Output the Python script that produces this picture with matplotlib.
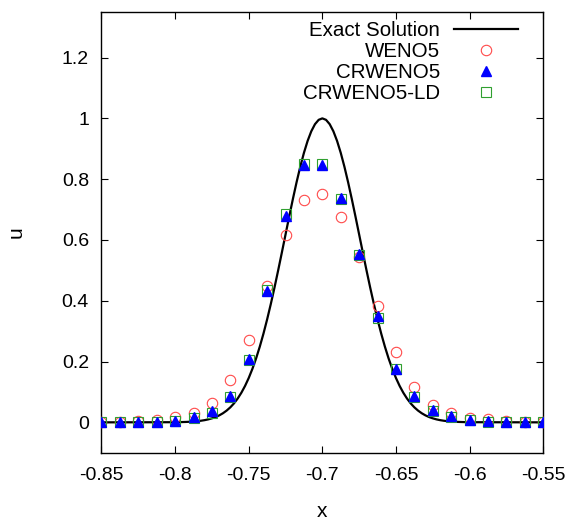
import numpy as np
import matplotlib
matplotlib.use("Agg")
import matplotlib.pyplot as plt

plt.rcParams.update({
    "font.family": ["Liberation Sans", "DejaVu Sans"],
    "font.size": 14,
    "axes.unicode_minus": False,
})

# sample points of the numerical solutions (grid spacing 0.0125)
x_pts = np.linspace(-0.85, -0.55, 25)
weno5 = [0.000, 0.001, 0.003, 0.008, 0.017, 0.032, 0.065, 0.138, 0.272, 0.449, 0.616, 0.733, 0.751,
         0.676, 0.545, 0.384, 0.231, 0.117, 0.057, 0.032, 0.015, 0.010, 0.003, 0.001, 0.000]
crweno5 = [0.000, 0.000, 0.000, 0.002, 0.006, 0.016, 0.037, 0.086, 0.207, 0.433, 0.680, 0.847, 0.848,
           0.737, 0.554, 0.349, 0.177, 0.086, 0.040, 0.020, 0.008, 0.003, 0.001, 0.000, 0.000]
crweno5_ld = [0.000, 0.000, 0.000, 0.001, 0.005, 0.014, 0.032, 0.082, 0.205, 0.435, 0.685, 0.849, 0.850,
              0.735, 0.550, 0.343, 0.174, 0.082, 0.037, 0.017, 0.007, 0.002, 0.000, 0.000, 0.000]

# exact solution, read at 0.0025 spacing from -0.8 up to the peak at -0.7 (symmetric)
u_left = [0.0005, 0.0007, 0.0010, 0.0014, 0.0020, 0.0028, 0.0038, 0.0053, 0.0072, 0.0098,
          0.0132, 0.0175, 0.0230, 0.0300, 0.0387, 0.0494, 0.0625, 0.0784, 0.0974, 0.1198,
          0.1459, 0.1760, 0.2103, 0.2489, 0.2917, 0.3387, 0.3894, 0.4434, 0.5001, 0.5586,
          0.6180, 0.6772, 0.7349, 0.7899, 0.8409, 0.8866, 0.9259, 0.9576, 0.9809, 0.9952,
          1.0]
u_exact = [0.0] + u_left + u_left[-2::-1] + [0.0]
x_exact = np.concatenate([[-0.85], np.linspace(-0.80, -0.60, 81), [-0.55]])

x_ticks = [-0.85, -0.8, -0.75, -0.7, -0.65, -0.6, -0.55]
y_ticks = [0, 0.2, 0.4, 0.6, 0.8, 1, 1.2]

fig = plt.figure(figsize=(5.67, 5.21), dpi=100)
ax = fig.add_axes([0.179, 0.131, 0.779, 0.846])

ax.plot(x_exact, u_exact, color="black", lw=1.6, label="Exact Solution", zorder=2)
ax.plot(x_pts, weno5, ls="none", marker="o", ms=7.5, mfc="none", mec="#ff4a4a", mew=0.8,
        label="WENO5", zorder=3)
ax.plot(x_pts, crweno5, ls="none", marker="^", ms=7.8, color="#0000ff", mec="#0000ff",
        label="CRWENO5", zorder=4)
ax.plot(x_pts, crweno5_ld, ls="none", marker="s", ms=7.3, mfc="none", mec="#30a030", mew=0.8,
        label="CRWENO5-LD", zorder=3)

ax.set_xlim(-0.85, -0.55)
ax.set_ylim(-0.1, 1.35)
ax.set_xticks(x_ticks)
ax.set_xticklabels([f"{t:g}" for t in x_ticks])
ax.set_yticks(y_ticks)
ax.set_yticklabels([f"{t:g}" for t in y_ticks])
ax.tick_params(direction="in", length=5, width=0.8, top=True, right=True)
ax.tick_params(axis="y", pad=9)
ax.tick_params(axis="x", pad=10)
for s in ax.spines.values():
    s.set_linewidth(1.0)

ax.set_xlabel("x", fontsize=15, labelpad=13)
ax.set_ylabel("u", fontsize=15, labelpad=26)

leg = ax.legend(loc="upper right", bbox_to_anchor=(0.943, 0.980), frameon=False,
                markerfirst=False, borderpad=0, borderaxespad=0, handlelength=3.1,
                handletextpad=0.7, labelspacing=0.1, fontsize=14.8)

fig.savefig("out.png", dpi=100)
